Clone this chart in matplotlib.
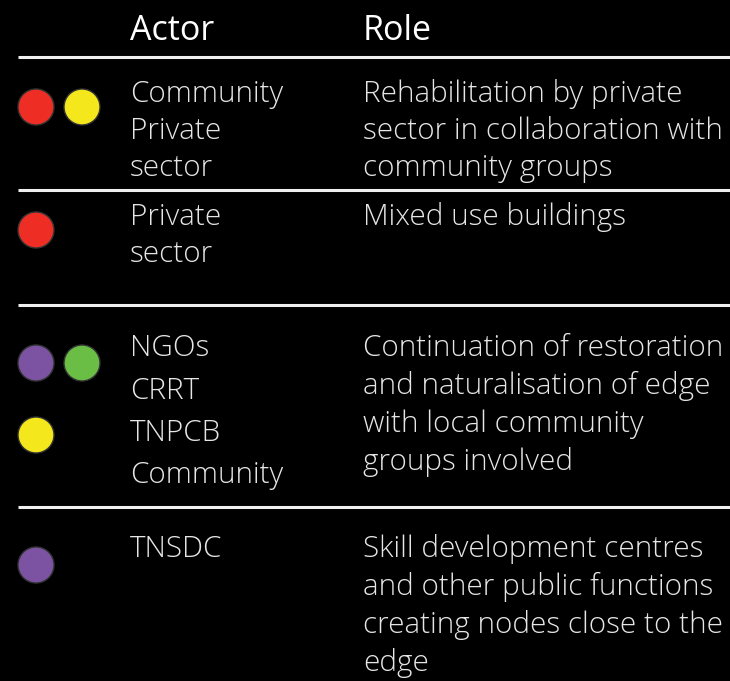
import matplotlib
matplotlib.use("Agg")
import matplotlib.pyplot as plt
from matplotlib.patches import Circle
from matplotlib import font_manager

# ---- data ----
headers = ["Actor", "Role"]
actors = [
    ["Community", "Private", "sector"],
    ["Private", "sector"],
    ["NGOs", "CRRT", "TNPCB", "Community"],
    ["TNSDC"],
]
roles = [
    ["Rehabilitation by private", "sector in collaboration with", "community groups"],
    ["Mixed use buildings"],
    ["Continuation of restoration", "and naturalisation of edge", "with local community", "groups involved"],
    ["Skill development centres", "and other public functions", "creating nodes close to the", "edge"],
]
# dots per row: (colour name, column slot, line slot)
dots = [
    [("red", 0, 0), ("yellow", 1, 0)],
    [("red", 0, 0)],
    [("purple", 0, 0), ("green", 1, 0), ("yellow", 0, 1)],
    [("purple", 0, 0)],
]
palette = {"red": "#ee2e24", "yellow": "#f4e81c", "purple": "#7c52a3", "green": "#6abd45"}

# ---- layout (pixels) ----
W, H = 730, 681
fig = plt.figure(figsize=(W / 100, H / 100), dpi=100, facecolor="black")
ax = fig.add_axes([0, 0, 1, 1])
ax.set_xlim(0, W)
ax.set_ylim(H, 0)
ax.set_facecolor("black")
ax.axis("off")

names = {f.name for f in font_manager.fontManager.ttflist}
fam = ["Open Sans", "DejaVu Sans"] if "Open Sans" in names else ["DejaVu Sans"]

x_actor, x_role = 130, 363
ax.text(x_actor, 40, headers[0], color="white", fontsize=24.5, family=fam, va="baseline")
ax.text(x_role, 40, headers[1], color="white", fontsize=24.5, family=fam, va="baseline")

sep_y = [57, 190, 305, 507]
for y in sep_y:
    ax.plot([18, W], [y, y], color="#f0f0f0", lw=2.2, solid_capstyle="butt")

actor_base = [[102, 139, 176], [225, 262], [356, 399, 441, 483], [557]]
role_base = [[102, 139, 176], [225], [356, 394, 432, 470], [557, 595, 633, 671]]
dot_y = [[107], [230], [363, 435], [565]]
dot_x = [36, 82]
txt_col = "#e6e6e6"

for i in range(len(actors)):
    for line, yb in zip(actors[i], actor_base[i]):
        ax.text(x_actor, yb, line, color=txt_col, fontsize=21.3, family=fam,
                fontweight="light", va="baseline")
    for line, yb in zip(roles[i], role_base[i]):
        ax.text(x_role, yb, line, color=txt_col, fontsize=21.3, family=fam,
                fontweight="light", va="baseline")
    for cname, cx, cy in dots[i]:
        ax.add_patch(Circle((dot_x[cx], dot_y[i][cy]), 18, facecolor=palette[cname],
                            edgecolor="#333333", lw=1.0))

fig.savefig("out.png", dpi=100, facecolor="black")
